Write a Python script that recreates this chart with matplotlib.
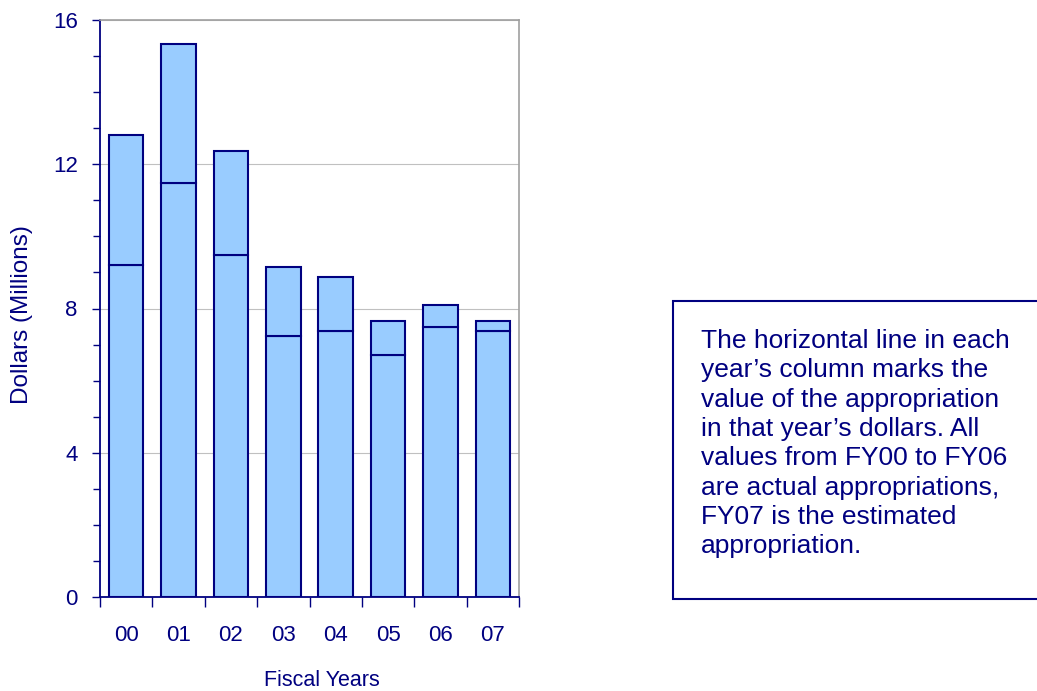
import matplotlib
matplotlib.use("Agg")
import matplotlib.pyplot as plt
from matplotlib.patches import Rectangle
from matplotlib.ticker import MultipleLocator, FixedLocator

plt.rcParams['font.family'] = ['Liberation Sans', 'DejaVu Sans']

years = ["00", "01", "02", "03", "04", "05", "06", "07"]
constant_dollars = [12.81, 15.33, 12.38, 9.14, 8.88, 7.65, 8.10, 7.65]
nominal_dollars = [9.21, 11.49, 9.48, 7.25, 7.37, 6.70, 7.48, 7.37]

navy = "#000080"
fill = "#99CCFF"

fig = plt.figure(figsize=(10.37, 6.91), dpi=100)
ax = fig.add_axes([100/1037, 1-597/691, 419/1037, 577/691])

x = list(range(len(years)))
upper = [c - n for c, n in zip(constant_dollars, nominal_dollars)]
ax.bar(x, nominal_dollars, width=0.66, color=fill, edgecolor=navy, linewidth=1.5, zorder=3)
ax.bar(x, upper, bottom=nominal_dollars, width=0.66, color=fill, edgecolor=navy, linewidth=1.5, zorder=3)

ax.set_xlim(-0.5, len(years) - 0.5)
ax.set_ylim(0, 16)
ax.yaxis.set_major_locator(MultipleLocator(4))
ax.yaxis.set_minor_locator(MultipleLocator(1))
ax.grid(axis='y', which='major', color='#C0C0C0', linewidth=0.8, zorder=0)

ax.xaxis.set_major_locator(FixedLocator([i - 0.5 for i in range(len(years) + 1)]))
ax.xaxis.set_minor_locator(FixedLocator(x))
ax.set_xticklabels([])
ax.set_xticklabels(years, minor=True)
ax.tick_params(axis='x', which='major', length=7, width=1, color=navy, direction='out')
ax.tick_params(axis='x', which='minor', length=0, pad=20, labelsize=16, labelcolor=navy)
ax.tick_params(axis='y', which='major', length=6, width=1, color=navy, labelsize=16, labelcolor=navy, pad=10)
ax.tick_params(axis='y', which='minor', length=5, width=1, color=navy)

for s in ['left', 'bottom']:
    ax.spines[s].set_color(navy)
    ax.spines[s].set_linewidth(1.3)
for s in ['top', 'right']:
    ax.spines[s].set_color('#A0A0A0')
    ax.spines[s].set_linewidth(1.2)

ax.set_ylabel("Dollars (Millions)", fontsize=17.5, color=navy)
ax.yaxis.set_label_coords(-67/419, 0.49)
ax.set_xlabel("Fiscal Years", fontsize=15.5, color=navy)
ax.xaxis.set_label_coords(222/419, -73/577)

# annotation box
box = Rectangle((673/1037, 1-599/691), 370/1037, 298/691, transform=fig.transFigure,
                facecolor='white', edgecolor=navy, linewidth=1.5)
fig.patches.append(box)
note = ("The horizontal line in each\n"
        "year\u2019s column marks the\n"
        "value of the appropriation\n"
        "in that year\u2019s dollars. All\n"
        "values from FY00 to FY06\n"
        "are actual appropriations,\n"
        "FY07 is the estimated\n"
        "appropriation.")
fig.text(701/1037, 1-329/691, note, fontsize=19, color=navy, va='top', ha='left', linespacing=1.28)

fig.savefig("out.png", dpi=100)
